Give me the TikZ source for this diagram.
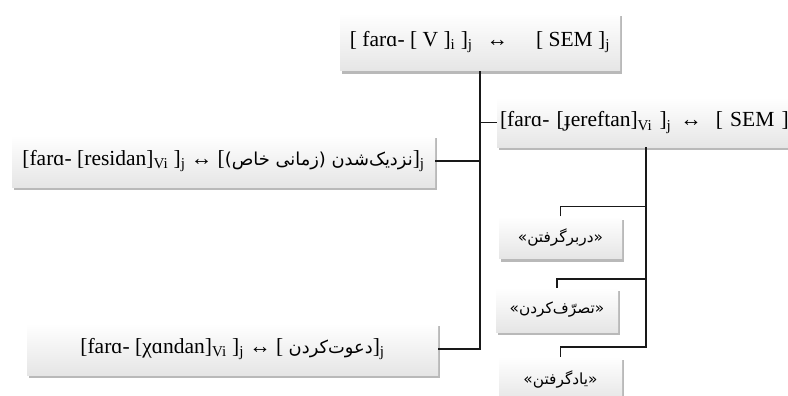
\documentclass[tikz,border=0pt]{standalone}
\usepackage{fontspec}
\setmainfont{Liberation Serif}
\newfontfamily\perfont[Script=Arabic,Scale=0.83]{DejaVu Sans}
\TeXXeTstate=1
\usetikzlibrary{shadows}
\usetikzlibrary{positioning}
\tikzstyle{cxn_box} = [
    shade,
    top color=white,
    bottom color=gray!20,
    drop shadow={shadow xshift=1.5pt, shadow yshift=-3pt, opacity=0.55},
    inner sep=0pt,
    font=\fontsize{21.5}{24}\selectfont
]
\tikzstyle{sense_box} = [
    cxn_box,
    minimum width=123pt,
    minimum height=42pt,
    font=\fontsize{18.5}{22}\selectfont
]
\tikzstyle{link} = [
    draw=black!90,
    line width=1.6pt
]

\begin{document}
\begin{tikzpicture}[x=1pt, y=-1pt]
\useasboundingbox (0,0) rectangle (788,396);
\begin{scope}
\clip (0,0) rectangle (788,396);
\node [cxn_box, minimum width=280pt, minimum height=58pt] (schema) at (480,42)
    {[ farɑ- [ V ]\textsubscript{i} ]\textsubscript{j}\hspace{14pt}↔\hspace{28pt}[ SEM ]\textsubscript{j}};
\node [cxn_box, minimum width=303pt, minimum height=49pt, text width=297pt, align=left] (jereftan) at (648.5,122.5)
    {[farɑ- [ɟereftan]\textsubscript{Vi} ]\textsubscript{j}\hspace{9pt}↔\hspace{14pt}[ SEM ]\textsubscript{j}};
\node [cxn_box, minimum width=423pt, minimum height=52pt] (residan) at (223.5,161)
    {[farɑ- [residan]\textsubscript{Vi} ]\textsubscript{j} ↔ [{\perfont\beginR نزدیک‌شدن (زمانی خاص)\endR}]\textsubscript{j}};
\node [cxn_box, minimum width=411pt, minimum height=52pt] (xandan) at (232.5,349)
    {[farɑ- [χɑndan]\textsubscript{Vi} ]\textsubscript{j} ↔ [ {\perfont\beginR دعوت‌کردن\endR}]\textsubscript{j}};
\node [sense_box] (encompass) at (560.5,237.5) {\perfont\beginR «دربرگرفتن»\endR};
\node [sense_box, minimum width=122pt, minimum height=44pt] (seize) at (557,310) {\perfont\beginR «تصرّف‌کردن»\endR};
\node [sense_box, minimum height=44pt] (learn) at (560.5,379) {\perfont\beginR «یادگرفتن»\endR};
\coordinate (fork) at (646,147);

% main tree
\draw [link] (schema.south) |- (xandan.east);
\draw [link] (residan.east) -- (residan.east -| schema.south);
\draw [link] (jereftan.west) -- (jereftan.west -| schema.south);
% senses of jereftan
\draw [link] (encompass.north) -- ++(0,-10) -| (fork);
\draw [link] (seize.north) -- ++(0,-9) -| (fork);
\draw [link] (learn.north) -- ++(0,-10) -| (fork);
\end{scope}
\end{tikzpicture}
\end{document}
